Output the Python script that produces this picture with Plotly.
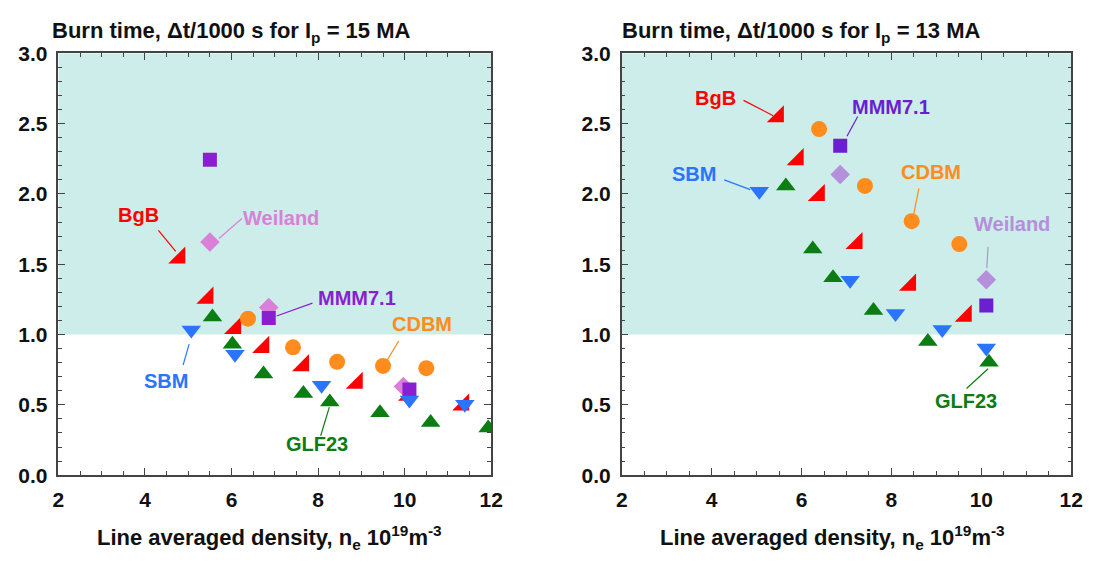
import plotly.graph_objects as go

# ---------------- data: Ip = 15 MA (left) ----------------
bgb15_x = [4.80, 5.45, 6.09, 6.74, 7.66, 8.90, 10.11, 11.36]
bgb15_y = [1.545, 1.26, 1.045, 0.91, 0.78, 0.655, 0.57, 0.50]
glf15_x = [5.56, 6.02, 6.74, 7.66, 8.27, 9.43, 10.60, 11.93]
glf15_y = [1.125, 0.93, 0.72, 0.58, 0.52, 0.443, 0.375, 0.336]
sbm15_x = [5.07, 6.08, 8.08, 10.11, 11.39]
sbm15_y = [1.033, 0.86, 0.64, 0.534, 0.505]
cdbm15_x = [6.38, 7.42, 8.44, 9.50, 10.50]
cdbm15_y = [1.113, 0.909, 0.806, 0.777, 0.761]
mmm15_x = [5.50, 6.86, 10.11]
mmm15_y = [2.243, 1.118, 0.609]
wei15_x = [5.50, 6.86, 9.97]
wei15_y = [1.658, 1.193, 0.631]

# ---------------- data: Ip = 13 MA (right) ----------------
bgb13_x = [5.48, 5.92, 6.39, 7.23, 8.42, 9.66]
bgb13_y = [2.55, 2.245, 1.99, 1.648, 1.352, 1.132]
glf13_x = [5.65, 6.25, 6.70, 7.60, 8.81, 10.17]
glf13_y = [2.057, 1.609, 1.404, 1.170, 0.950, 0.802]
sbm13_x = [5.06, 7.08, 8.09, 9.13, 10.11]
sbm13_y = [2.018, 1.386, 1.15, 1.036, 0.905]
cdbm13_x = [6.39, 7.41, 8.45, 9.51]
cdbm13_y = [2.461, 2.057, 1.806, 1.643]
mmm13_x = [6.86, 10.11]
mmm13_y = [2.343, 1.207]
wei13_x = [6.86, 10.11]
wei13_y = [2.138, 1.389]

titles = ["Burn time, \u0394t/1000 s for I<sub>p</sub> = 15 MA",
          "Burn time, \u0394t/1000 s for I<sub>p</sub> = 13 MA"]
xtitle = "Line averaged density, n<sub>e</sub> 10<sup>19</sup>m<sup>-3</sup>"
x_ticks = [2, 4, 6, 8, 10, 12]
y_ticks = [0.0, 0.5, 1.0, 1.5, 2.0, 2.5, 3.0]

RED = "#ff0000"
GREEN = "#0b7d12"
BLUE = "#2a74ff"
ORANGE = "#ff8c1c"
PURPLE = "#8a1fd0"
PURPLE2 = "#6a1fd0"
PINK = "#da80d8"
LAV = "#b58fdc"

FONT = "Liberation Sans, Arial, sans-serif"

fig = go.Figure()


def add_panel(xa, ya, wei, bgb, cdbm, glf, mmm, sbm, mcol, wcol):
    common = dict(mode="markers", xaxis=xa, yaxis=ya, showlegend=False, hoverinfo="skip")
    fig.add_trace(go.Scatter(x=wei[0], y=wei[1], marker=dict(symbol="diamond", size=15, color=wcol, line=dict(width=0)), **common))
    fig.add_trace(go.Scatter(x=bgb[0], y=bgb[1], marker=dict(symbol="triangle-se", size=19, color=RED, line=dict(width=0)), **common))
    fig.add_trace(go.Scatter(x=cdbm[0], y=cdbm[1], marker=dict(symbol="circle", size=16, color=ORANGE, line=dict(width=0)), **common))
    fig.add_trace(go.Scatter(x=glf[0], y=glf[1], marker=dict(symbol="triangle-up", size=17, color=GREEN, line=dict(width=0)), **common))
    fig.add_trace(go.Scatter(x=mmm[0], y=mmm[1], marker=dict(symbol="square", size=14, color=mcol, line=dict(width=0)), **common))
    fig.add_trace(go.Scatter(x=sbm[0], y=sbm[1], marker=dict(symbol="triangle-down", size=17, color=BLUE, line=dict(width=0)), **common))


add_panel("x", "y", (wei15_x, wei15_y), (bgb15_x, bgb15_y), (cdbm15_x, cdbm15_y),
          (glf15_x, glf15_y), (mmm15_x, mmm15_y), (sbm15_x, sbm15_y), PURPLE, PINK)
add_panel("x2", "y2", (wei13_x, wei13_y), (bgb13_x, bgb13_y), (cdbm13_x, cdbm13_y),
          (glf13_x, glf13_y), (mmm13_x, mmm13_y), (sbm13_x, sbm13_y), PURPLE2, LAV)

# shaded regions (burn time > 1000 s)
shapes = []
for xr, yr in (("x", "y"), ("x2", "y2")):
    shapes.append(dict(type="rect", xref=xr, yref=yr, x0=2, x1=12, y0=1.0, y1=3.0,
                       fillcolor="#ccede9", line=dict(width=0), layer="below"))

# label text and leader lines: (text, color, tx, ty, lx0, ly0, lx1, ly1)
labels15 = [
    ("BgB", RED, 3.86, 1.853, 4.31, 1.741, 4.71, 1.591),
    ("Weiland", PINK, 7.15, 1.832, 6.24, 1.825, 5.71, 1.683),
    ("MMM7.1", PURPLE, 8.90, 1.259, 7.87, 1.223, 7.04, 1.132),
    ("CDBM", ORANGE, 10.41, 1.075, 9.86, 0.954, 9.58, 0.809),
    ("SBM", BLUE, 4.49, 0.672, 4.88, 0.782, 5.02, 0.932),
    ("GLF23", GREEN, 7.97, 0.223, 8.06, 0.280, 8.26, 0.484),
]
labels13 = [
    ("BgB", RED, 4.09, 2.68, 4.71, 2.665, 5.37, 2.556),
    ("MMM7.1", PURPLE2, 8.0, 2.62, 7.25, 2.55, 7.01, 2.41),
    ("SBM", BLUE, 3.60, 2.14, 4.28, 2.10, 4.86, 2.03),
    ("CDBM", ORANGE, 8.87, 2.154, 8.61, 2.04, 8.49, 1.847),
    ("Weiland", LAV, 10.69, 1.786, 10.15, 1.624, 10.12, 1.472),
    ("GLF23", GREEN, 9.66, 0.525, 9.67, 0.616, 10.15, 0.757),
]

annotations = []
for labs, xr, yr in ((labels15, "x", "y"), (labels13, "x2", "y2")):
    for (t, c, tx, ty, x0, y0, x1, y1) in labs:
        annotations.append(dict(text=t, x=tx, y=ty, xref=xr, yref=yr, showarrow=False,
                                font=dict(family=FONT, size=20, color=c, weight="bold")))
        shapes.append(dict(type="line", xref=xr, yref=yr, x0=x0, y0=y0, x1=x1, y1=y1,
                           line=dict(color=c, width=1.2)))

# panel titles
W, H = 1099, 568
for t, px in zip(titles, (45, 624)):
    annotations.append(dict(text=t, x=px / W, y=(H - 21) / H, xref="paper", yref="paper",
                            xanchor="left", yanchor="middle", showarrow=False,
                            font=dict(family=FONT, size=22, color="#111", weight="bold")))
# x-axis titles
for px in (268, 840):
    annotations.append(dict(text=xtitle, x=px / W, y=(H - 548) / H, xref="paper", yref="paper",
                            xanchor="center", yanchor="middle", showarrow=False,
                            font=dict(family=FONT, size=22, color="#111", weight="bold")))

ax_common = dict(showgrid=False, zeroline=False, showline=True, linecolor="#444", linewidth=1.5,
                 mirror="ticks", ticks="inside", tickcolor="#444", tickwidth=1.2, ticklen=7,
                 tickfont=dict(family=FONT, size=21, color="#111", weight="bold"),
                 ticklabelstandoff=5)

xcommon = dict(ax_common, range=[2, 12], tickvals=x_ticks,
               minor=dict(dtick=0.5, ticks="inside", ticklen=4, tickcolor="#444", tickwidth=1))
ycommon = dict(ax_common, range=[0, 3], tickvals=y_ticks, tickformat=".1f",
               minor=dict(dtick=0.1, ticks="inside", ticklen=4, tickcolor="#444", tickwidth=1))

ydom = [(H - 482.7) / H, (H - 43.0) / H]
fig.update_layout(
    width=W, height=H,
    margin=dict(l=0, r=0, t=0, b=0),
    paper_bgcolor="white", plot_bgcolor="white",
    xaxis=dict(xcommon, domain=[53.3 / W, 493.3 / W], anchor="y"),
    yaxis=dict(ycommon, domain=ydom, anchor="x"),
    xaxis2=dict(xcommon, domain=[626 / W, 1083 / W], anchor="y2"),
    yaxis2=dict(ycommon, domain=ydom, anchor="x2"),
    shapes=shapes,
    annotations=annotations,
)

fig.write_html("out.html")
